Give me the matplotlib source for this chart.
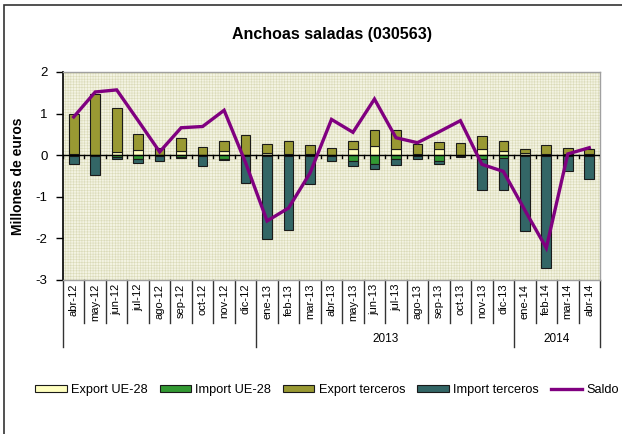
import matplotlib
matplotlib.use("Agg")
import matplotlib.pyplot as plt
import matplotlib.transforms as mtransforms
from matplotlib.patches import Rectangle
from matplotlib.lines import Line2D
import numpy as np

plt.rcParams['font.family'] = ['Liberation Sans', 'DejaVu Sans']
plt.rcParams['hatch.linewidth'] = 0.4

months = ['abr-12', 'may-12', 'jun-12', 'jul-12', 'ago-12', 'sep-12', 'oct-12', 'nov-12', 'dic-12',
          'ene-13', 'feb-13', 'mar-13', 'abr-13', 'may-13', 'jun-13', 'jul-13', 'ago-13', 'sep-13',
          'oct-13', 'nov-13', 'dic-13', 'ene-14', 'feb-14', 'mar-14', 'abr-14']
years = ['', '2013', '2014']
year_sizes = [9, 12, 4]

export_ue = [0.02, 0.01, 0.08, 0.12, 0.01, 0.09, 0.01, 0.09, 0.01, 0.05, 0.02, 0.02, 0.01,
             0.15, 0.23, 0.14, 0.02, 0.15, 0.01, 0.14, 0.11, 0.05, 0.02, 0.02, 0.04]
export_terc = [0.96, 1.45, 1.06, 0.38, 0.17, 0.33, 0.19, 0.26, 0.48, 0.22, 0.33, 0.23, 0.17,
               0.20, 0.38, 0.47, 0.24, 0.17, 0.29, 0.32, 0.24, 0.10, 0.23, 0.16, 0.11]
import_ue = [-0.01, -0.01, -0.04, -0.10, -0.01, -0.04, -0.01, -0.08, -0.01, -0.01, -0.01, -0.01, -0.01,
             -0.14, -0.21, -0.08, -0.03, -0.13, -0.01, -0.08, -0.06, -0.03, -0.02, -0.01, -0.01]
import_terc = [-0.20, -0.47, -0.05, -0.08, -0.13, -0.03, -0.26, -0.04, -0.66, -2.00, -1.78, -0.69, -0.13,
               -0.13, -0.13, -0.16, -0.06, -0.08, -0.03, -0.76, -0.78, -1.79, -2.69, -0.38, -0.56]
saldo = [0.92, 1.52, 1.57, 0.83, 0.08, 0.66, 0.69, 1.08, -0.18, -1.58, -1.27, -0.43, 0.86,
         0.55, 1.35, 0.42, 0.30, 0.56, 0.83, -0.22, -0.39, -1.32, -2.23, 0.03, 0.18]

c_exp_ue = '#FFFFC0'
c_imp_ue = '#339933'
c_exp_t = '#999933'
c_imp_t = '#336666'
c_saldo = '#800080'

fig = plt.figure(figsize=(6.22, 4.34), dpi=100)
ax = fig.add_axes([63/622, 1-280/434, (600-63)/622, (280-72)/434])

# outer frame
fig.patches.append(Rectangle((4/622, -0.1), 1.2, 1-5/434+0.1, transform=fig.transFigure,
                             fill=False, edgecolor='#333333', linewidth=1.2, zorder=-1))

x = np.arange(len(months))
w = 0.45

ax.set_facecolor('#F3F3E2')
ax.add_patch(Rectangle((0, 0), 1, 1, transform=ax.transAxes, facecolor='none',
                       edgecolor='#DADAB8', hatch='++++++', linewidth=0, zorder=0))

ek = dict(edgecolor='#1a1a1a', linewidth=0.8, zorder=3)
ax.bar(x, export_ue, w, color=c_exp_ue, **ek)
ax.bar(x, export_terc, w, bottom=export_ue, color=c_exp_t, **ek)
ax.bar(x, import_ue, w, color=c_imp_ue, **ek)
ax.bar(x, import_terc, w, bottom=import_ue, color=c_imp_t, **ek)

ax.axhline(0, color='black', linewidth=1.0, zorder=4)
for b in np.arange(-0.5, len(months), 1.0):
    ax.plot([b, b], [-0.06, 0.0], color='black', linewidth=1.0, zorder=4)

ax.plot(x, saldo, color=c_saldo, linewidth=2.4, zorder=5, solid_joinstyle='miter')

ax.set_xlim(-0.5, len(months) - 0.5)
ax.set_ylim(-3, 2)
ax.set_yticks([2, 1, 0, -1, -2, -3])
ax.set_yticklabels(['2', '1', '0', '-1', '-2', '-3'], fontsize=9.5)
ax.tick_params(axis='y', direction='out', length=5, width=1, pad=6)
ax.set_xticks([])
for s in ['top', 'right', 'bottom']:
    ax.spines[s].set_color('#A0A0A0')
    ax.spines[s].set_linewidth(1.0)
ax.spines['left'].set_color('black')
ax.spines['left'].set_linewidth(1.2)

ax.set_ylabel('Millones de euros', fontsize=10, fontweight='bold', labelpad=8)
ax.set_title('Anchoas saladas (030563)', fontsize=11.5, fontweight='bold', pad=24)

trans = mtransforms.blended_transform_factory(ax.transData, ax.transAxes)
for i, m in enumerate(months):
    ax.text(i, -0.018, m, rotation=90, ha='center', va='top', fontsize=8,
            transform=trans, clip_on=False)

# separators
bounds = [-0.5]
acc = -0.5
for s in year_sizes:
    acc += s
    bounds.append(acc)
long_b = set(bounds)
for b in np.arange(-0.5, len(months), 1.0):
    y1 = -0.32 if b in long_b else -0.205
    ax.plot([b, b], [0, y1], color='#333333', linewidth=1.0, transform=trans, clip_on=False)
for i, yl in enumerate(years):
    c = (bounds[i] + bounds[i + 1]) / 2
    ax.text(c, -0.285, yl, ha='center', va='center', fontsize=8.5, transform=trans, clip_on=False)

handles = [Rectangle((0, 0), 1, 1, facecolor=c_exp_ue, edgecolor='#1a1a1a', linewidth=0.8),
           Rectangle((0, 0), 1, 1, facecolor=c_imp_ue, edgecolor='#1a1a1a', linewidth=0.8),
           Rectangle((0, 0), 1, 1, facecolor=c_exp_t, edgecolor='#1a1a1a', linewidth=0.8),
           Rectangle((0, 0), 1, 1, facecolor=c_imp_t, edgecolor='#1a1a1a', linewidth=0.8),
           Line2D([0], [0], color=c_saldo, linewidth=2.4)]
labels = ['Export UE-28', 'Import UE-28', 'Export terceros', 'Import terceros', 'Saldo']
fig.legend(handles, labels, loc='center', bbox_to_anchor=(327/622, 1-390/434), ncol=5,
           frameon=False, fontsize=9.2, handlelength=2.45, handleheight=0.5,
           handletextpad=0.33, columnspacing=0.95, borderpad=0)

fig.savefig('out.png', dpi=100, facecolor='white')
